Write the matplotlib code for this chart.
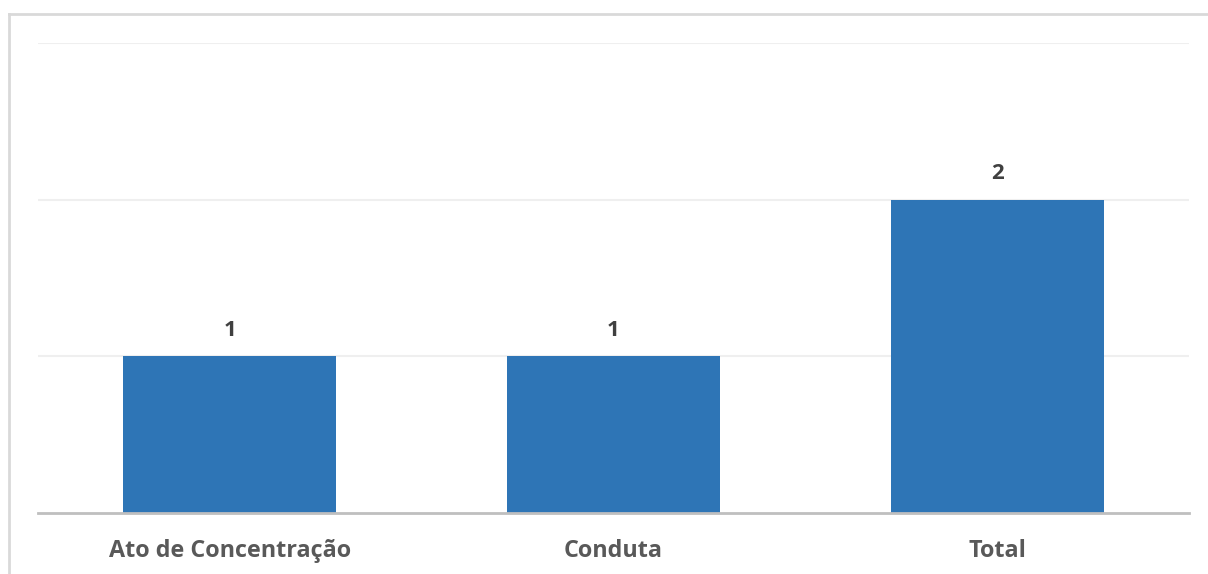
import matplotlib.pyplot as plt
from matplotlib.lines import Line2D

# Case counts by type
categories = ["Ato de Concentração", "Conduta", "Total"]
counts = [1, 1, 2]

BAR_COLOR = "#2E75B6"

fig = plt.figure(figsize=(12.08, 5.74), dpi=100)
ax = fig.add_axes([0.0315, 0.1063, 0.9528, 0.8188])

x = range(len(categories))
ax.bar(x, counts, width=0.555, color=BAR_COLOR, zorder=3)

# Value labels above bars
for xi, v in zip(x, counts):
    ax.text(xi, v + 0.1, str(v), ha="center", va="bottom",
            fontsize=16, fontweight="bold", color="#404040",
            family="Open Sans")

ax.set_xlim(-0.5, len(categories) - 0.5)
ax.set_ylim(0, 3)
ax.set_yticks([1, 2, 3])
ax.yaxis.grid(True, color="#EFEFEF", linewidth=1.5, zorder=0)
ax.tick_params(axis="y", left=False, labelleft=False)
ax.tick_params(axis="x", bottom=False, pad=15)
ax.set_xticks(list(x))
ax.set_xticklabels(categories, fontsize=16.8, fontweight="bold",
                   color="#595959", family="Open Sans")

for side in ["top", "right", "left"]:
    ax.spines[side].set_visible(False)
ax.spines["bottom"].set_color("#BFBFBF")
ax.spines["bottom"].set_linewidth(2)
ax.spines["bottom"].set_zorder(4)

# Chart area frame (top and left edges)
fig.add_artist(Line2D([9 / 1208, 1.0], [1 - 14 / 574, 1 - 14 / 574],
                      color="#D9D9D9", linewidth=2, transform=fig.transFigure))
fig.add_artist(Line2D([9 / 1208, 9 / 1208], [0.0, 1 - 14 / 574],
                      color="#D9D9D9", linewidth=2, transform=fig.transFigure))

fig.savefig("out.png", dpi=100)
